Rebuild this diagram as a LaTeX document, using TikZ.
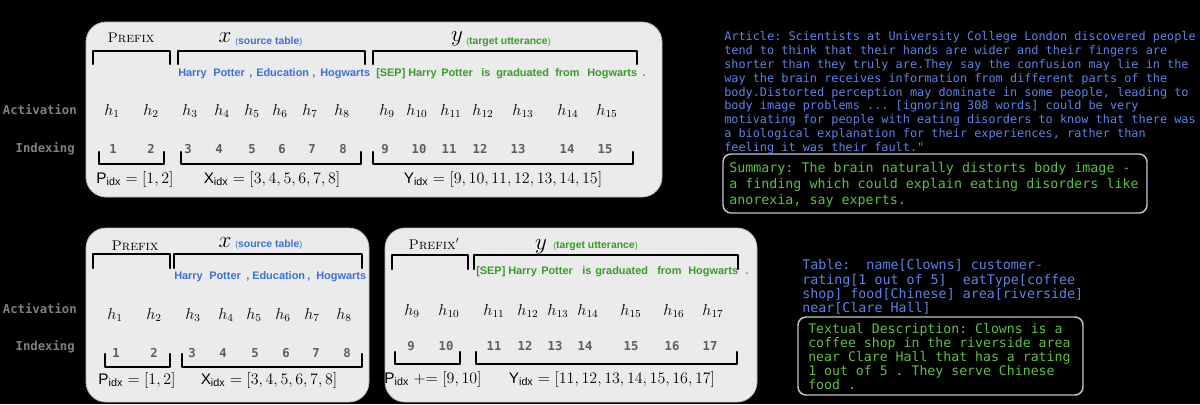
\documentclass[tikz,border=0pt]{standalone}
\usepackage{fontspec}
\setsansfont{Liberation Sans}
\setmonofont{DejaVu Sans Mono}
\definecolor{panelbg}{HTML}{EBEBEB}
\definecolor{tokblue}{HTML}{3D6FD6}
\definecolor{tokgreen}{HTML}{3A9A2A}
\definecolor{artblue}{HTML}{5B84E8}
\definecolor{sumgreen}{HTML}{5CC13E}
\definecolor{lblgray}{HTML}{808080}
\definecolor{idxgray}{HTML}{5E5E5E}
\newcommand\brkt[4]{\draw[brk] (#1,#4) -- (#1,#3) -- (#2,#3) -- (#2,#4);}
\newcommand\lparen{{\fontsize{6.5}{7}\selectfont\mdseries(}}
\newcommand\rparen{{\fontsize{6.5}{7}\selectfont\mdseries)}}
\begin{document}
\begin{tikzpicture}[x=0.75pt,y=-0.75pt,
  panel/.style={fill=panelbg, draw=gray!55, line width=0.6pt, rounded corners=15pt},
  brk/.style={draw=black, line width=1.7pt, line cap=round, line join=round},
  hnode/.style={inner sep=0pt, anchor=base, font=\fontsize{11.5}{13}\selectfont},
  idxn/.style={inner sep=0pt, anchor=base, text=idxgray, font=\ttfamily\bfseries\fontsize{9.2}{10}\selectfont},
  rowlab/.style={inner sep=0pt, anchor=base east, text=lblgray, font=\ttfamily\bfseries\fontsize{9.2}{11}\selectfont},
  tokb/.style={inner sep=0pt, anchor=base west, text=tokblue, font=\sffamily\bfseries\fontsize{8.2}{9}\selectfont},
  tokg/.style={tokb, text=tokgreen},
  pref/.style={inner sep=0pt, anchor=base, font=\fontsize{10.5}{12}\selectfont},
  bigvar/.style={inner sep=0pt, anchor=base, font=\fontsize{16}{18}\selectfont},
  notelab/.style={inner sep=0pt, anchor=base west, font=\sffamily\bfseries\fontsize{7.8}{9}\selectfont},
  formula/.style={inner sep=0pt, anchor=base, font=\fontsize{11.5}{14}\selectfont},
  txtbox/.style={draw=gray!45!white, line width=1.1pt, rounded corners=6pt},
  monotext/.style={inner sep=0pt, anchor=north west, align=left}
]
\fill[black] (0,0) rectangle (1200,404);

% ---------------- Panel 1 ----------------
\draw[panel] (86,22) rectangle (662,197);
\node[pref] (p1pre) at (131,42) {\textsc{Prefix}};
\node[bigvar] (p1x) at (225,42) {$x$};
\node[notelab, text=tokblue] (p1xl) at (235,44) {\lparen source table\rparen};
\node[bigvar] (p1y) at (457,41) {$y$};
\node[notelab, text=tokgreen] (p1yl) at (466,44) {\lparen target utterance\rparen};
\brkt{93}{170}{51}{64}
\brkt{178}{365}{51}{64}
\brkt{373}{637}{51}{64}
\node[tokb] (p1t1) at (178,76) {Harry};
\node[tokb] (p1t2) at (213,76) {Potter};
\node[tokb] (p1t3) at (249,76) {,};
\node[tokb] (p1t4) at (256,76) {Education};
\node[tokb] (p1t5) at (312,76) {,};
\node[tokb] (p1t6) at (320,76) {Hogwarts};
\node[tokg] (p1g1) at (376,76) {[SEP]};
\node[tokg] (p1g2) at (408,76) {Harry};
\node[tokg] (p1g3) at (441,76) {Potter};
\node[tokg] (p1g4) at (481,76) {is};
\node[tokg] (p1g5) at (496,76) {graduated};
\node[tokg] (p1g6) at (555,76) {from};
\node[tokg] (p1g7) at (587,76) {Hogwarts};
\node[tokg] (p1g8) at (642,76) {.};
\node[rowlab] (p1act) at (77,114) {Activation};
\node[rowlab] (p1ind) at (75,152) {Indexing};
\foreach \x [count=\i from 1] in {112,151,190,222,252,280,310,342,387,417,451,483,523,568,607}
  \node[hnode] (p1h\i) at (\x,115) {$h_{\i}$};
\foreach \x [count=\i from 1] in {113,151,188,219,252,282,312,343,385,419,449,480,518,567,605}
  \node[idxn] (p1n\i) at (\x,153) {\i};
\brkt{99}{164}{164}{152}
\brkt{181}{361}{164}{152}
\brkt{373}{633}{164}{152}
\node[formula] (p1fp) at (135,183) {$\mathsf{P}_{\mathsf{idx}} = [1,2]$};
\node[formula] (p1fx) at (272,183) {$\mathsf{X}_{\mathsf{idx}} = [3,4,5,6,7,8]$};
\node[formula] (p1fy) at (503,183) {$\mathsf{Y}_{\mathsf{idx}} = [9,10,11,12,13,14,15]$};

% ---------------- Panel 2 ----------------
\draw[panel] (86,228) rectangle (369,402);
\node[pref] (p2pre) at (135,250) {\textsc{Prefix}};
\node[bigvar] (p2x) at (225,247) {$x$};
\node[notelab, text=tokblue] (p2xl) at (235,247) {\lparen source table\rparen};
\brkt{93}{170}{254}{268}
\brkt{174}{362}{254}{268}
\node[tokb] (p2t1) at (174,279) {Harry};
\node[tokb] (p2t2) at (209,279) {Potter};
\node[tokb] (p2t3) at (246,279) {,};
\node[tokb] (p2t4) at (252,279) {Education};
\node[tokb] (p2t5) at (307,279) {,};
\node[tokb] (p2t6) at (316,279) {Hogwarts};
\node[rowlab] (p2act) at (77,313) {Activation};
\node[rowlab] (p2ind) at (75,350) {Indexing};
\foreach \x [count=\i from 1] in {115,154,193,226,254,283,312,344}
  \node[hnode] (p2h\i) at (\x,319) {$h_{\i}$};
\foreach \x [count=\i from 1] in {116,154,192,223,255,286,316,347}
  \node[idxn] (p2n\i) at (\x,357) {\i};
\brkt{105}{170}{367}{354}
\brkt{182}{362}{367}{354}
\node[formula] (p2fp) at (137,384) {$\mathsf{P}_{\mathsf{idx}} = [1,2]$};
\node[formula] (p2fx) at (269,384) {$\mathsf{X}_{\mathsf{idx}} = [3,4,5,6,7,8]$};

% ---------------- Panel 3 ----------------
\draw[panel] (385,228) rectangle (757,402);
\node[pref] (p3pre) at (434,249) {\textsc{Prefix}$'$};
\node[bigvar] (p3y) at (541,249) {$y$};
\node[notelab, text=tokgreen] (p3yl) at (553,248) {\lparen target utterance\rparen};
\brkt{392}{468}{255}{269}
\brkt{474}{738}{255}{269}
\node[tokg] (p3g1) at (476,274) {[SEP]};
\node[tokg] (p3g2) at (508,274) {Harry};
\node[tokg] (p3g3) at (541,274) {Potter};
\node[tokg] (p3g4) at (582,274) {is};
\node[tokg] (p3g5) at (595,274) {graduated};
\node[tokg] (p3g6) at (657,274) {from};
\node[tokg] (p3g7) at (688,274) {Hogwarts};
\node[tokg] (p3g8) at (745,274) {.};
\foreach \x [count=\i from 9] in {412,449,494,528,558,588,631,674,713}
  \node[hnode] (p3h\i) at (\x,315) {$h_{\i}$};
\foreach \x [count=\i from 9] in {411,446,494,525,555,585,631,672,710}
  \node[idxn] (p3n\i) at (\x,350) {\i};
\brkt{395}{460}{364}{352}
\brkt{476}{737}{364}{352}
\node[formula] (p3fp) at (433,383) {$\mathsf{P}_{\mathsf{idx}} \mathrel{+}\mathrel{=} [9,10]$};
\node[formula] (p3fy) at (612,383) {$\mathsf{Y}_{\mathsf{idx}} = [11,12,13,14,15,16,17]$};

% ---------------- Right top ----------------
\node[monotext, text=artblue, font=\ttfamily\fontsize{8.9}{10.35}\selectfont] (article) at (724,31.5)
{Article: Scientists at University College London discovered people\\
tend to think that their hands are wider and their fingers are\\
shorter than they truly are.They say the confusion may lie in the\\
way the brain receives information from different parts of the\\
body.Distorted perception may dominate in some people, leading to\\
body image problems ... [ignoring 308 words] could be very\\
motivating for people with eating disorders to know that there was\\
a biological explanation for their experiences, rather than\\
feeling it was their fault."};
\draw[txtbox] (723,154) rectangle (1147,213);
\node[monotext, text=sumgreen, font=\ttfamily\fontsize{10}{12}\selectfont] (summary) at (729,162.5)
{Summary: The brain naturally distorts body image -\\
a finding which could explain eating disorders like\\
anorexia, say experts.};

% ---------------- Right bottom ----------------
\node[monotext, text=artblue, font=\ttfamily\fontsize{10}{10.7}\selectfont] (table) at (802,259.5)
{Table:~~name[Clowns] customer-\\
rating[1 out of 5]~~eatType[coffee\\
shop] food[Chinese] area[riverside]\\
near[Clare Hall]};
\draw[txtbox] (798,317) rectangle (1083,395);
\node[monotext, text=sumgreen, font=\ttfamily\fontsize{9.9}{10.6}\selectfont] (desc) at (808,322.8)
{Textual Description: Clowns is a\\
coffee shop in the riverside area\\
near Clare Hall that has a rating\\
1 out of 5 . They serve Chinese\\
food .};
\end{tikzpicture}
\end{document}
